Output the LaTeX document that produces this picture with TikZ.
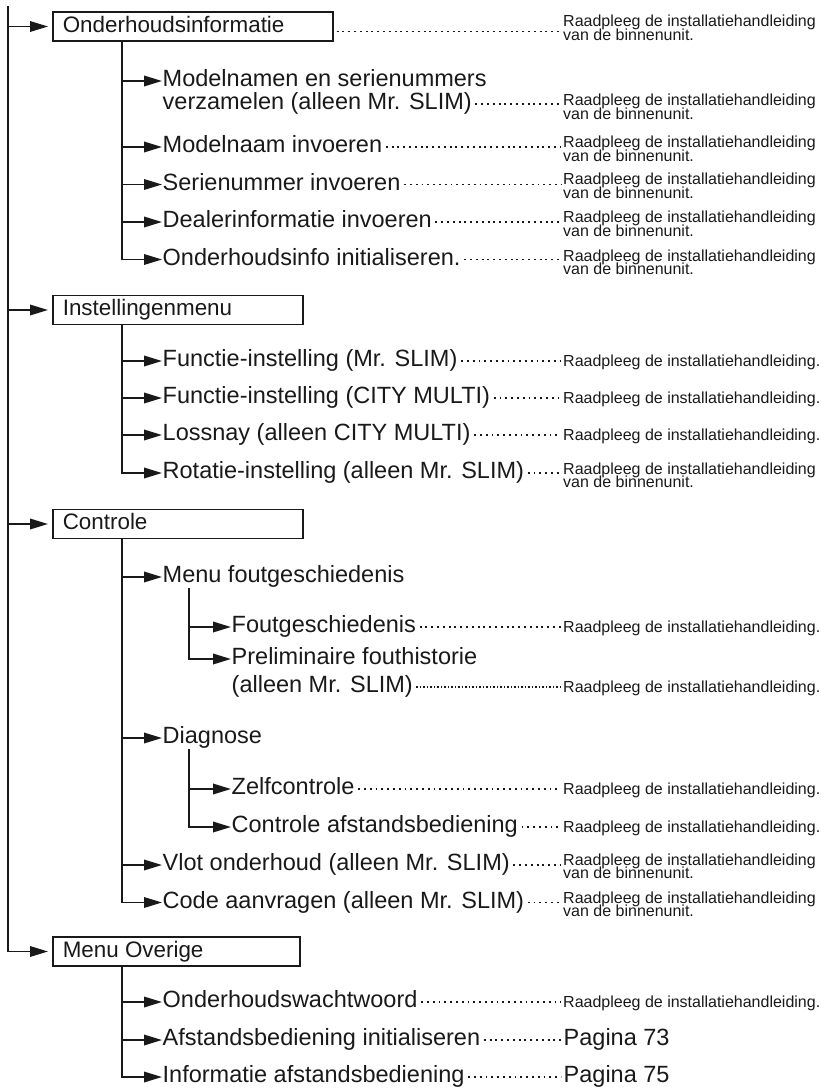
\documentclass[tikz,border=0pt]{standalone}
\usepackage{fontspec}
\setmainfont{Liberation Sans}
\usepackage{tikz}
\usetikzlibrary{arrows.meta}
\usetikzlibrary{calc}
\colorlet{ink}{black!90}
\tikzstyle{tree}=[line width=1.8pt,draw=ink]
\tikzstyle{arr}=[tree,-{Triangle[length=18pt,width=10.5pt]}]
\tikzstyle{arrbox}=[tree,-{Triangle[length=18pt,width=10.5pt]},shorten >=4pt]
\tikzstyle{leader}=[line width=1.9pt,draw=ink,dash pattern=on 1.9pt off 3.9pt,shorten <=3pt,shorten >=2pt]
\tikzstyle{fineleader}=[leader,line width=1.4pt,dash pattern=on 1.4pt off 2.1pt]
\tikzstyle{menubox}=[draw=ink,line width=1.6pt,anchor=west,inner xsep=10pt,inner ysep=0pt,minimum height=29pt,font=\fontsize{22.4}{26}\selectfont,text height=16.1pt,text depth=4.5pt]
\tikzstyle{item}=[anchor=west,inner xsep=0.5pt,inner ysep=0pt,font=\fontsize{23.5}{26}\selectfont,text height=17pt,text depth=5.5pt]
\tikzstyle{rtext}=[anchor=west,inner sep=0pt,font=\fontsize{16}{13}\selectfont,text height=11.5pt,text depth=0pt]
\newcommand\binnen[2]{%
  \node[rtext,anchor=base west] (#1) at (563,#2) {Raadpleeg de installatiehandleiding};
  \node[rtext,anchor=base west] (#1b) at ([yshift=-13.5pt]#1.base west) {van de binnenunit.};}
\newcommand\handl[2]{%
  \node[rtext] (#1) at (563,#2) {Raadpleeg de installatiehandleiding.};}

\begin{document}
\begin{tikzpicture}[x=1pt,y=-1pt,color=ink]
\useasboundingbox (0,0) rectangle (828,1091);
% menu's
\node[menubox] (onderhoud) at (52,26.5) {\makebox[260pt][l]{Onderhoudsinformatie}};
\node[menubox] (instel) at (52,310) {\makebox[230pt][l]{Instellingenmenu}};
\node[menubox] (controle) at (52,524) {\makebox[230pt][l]{Controle}};
\node[menubox] (overige) at (52,951.5) {\makebox[227pt][l]{Menu Overige}};

% onderhoudsinformatie
\node[item] (mn1) at (162,81) {Modelnamen en serienummers};
\node[item] (mn2) at (162,104) {verzamelen (alleen Mr. SLIM)};
\node[item] (mi) at (162,147) {Modelnaam invoeren};
\node[item] (si) at (162,184.5) {Serienummer invoeren};
\node[item] (di) at (162,222) {Dealerinformatie invoeren};
\node[item] (oi) at (162,259.5) {Onderhoudsinfo initialiseren.};
\binnen{rond}{27}
\binnen{rmn}{106}
\binnen{rmi}{148}
\binnen{rsi}{185}
\binnen{rdi}{223}
\binnen{roi}{261}

% instellingenmenu
\node[item] (fm) at (162,361) {Functie-instelling (Mr. SLIM)};
\node[item] (fc) at (162,398) {Functie-instelling (CITY MULTI)};
\node[item] (lo) at (162,435) {Lossnay (alleen CITY MULTI)};
\node[item] (rt) at (162,473) {Rotatie-instelling (alleen Mr. SLIM)};
\handl{rfm}{361}
\handl{rfc}{398}
\handl{rlo}{435}
\binnen{rrt}{474}

% controle
\node[item] (mf) at (162,577) {Menu foutgeschiedenis};
\node[item] (fg) at (231,627) {Foutgeschiedenis};
\node[item] (pf1) at (231,659) {Preliminaire fouthistorie};
\node[item] (pf2) at (231,687) {(alleen Mr. SLIM)};
\node[item] (dg) at (162,738) {Diagnose};
\node[item] (zc) at (231,789) {Zelfcontrole};
\node[item] (ca) at (231,827) {Controle afstandsbediening};
\node[item] (vo) at (162,865) {Vlot onderhoud (alleen Mr. SLIM)};
\node[item] (co) at (162,902.5) {Code aanvragen (alleen Mr. SLIM)};
\handl{rfg}{627}
\handl{rpf}{687}
\handl{rzc}{789}
\handl{rca}{827}
\binnen{rvo}{865}
\binnen{rco}{903}

% menu overige
\node[item] (ow) at (162,1002) {Onderhoudswachtwoord};
\node[item] (ai) at (162,1040) {Afstandsbediening initialiseren};
\node[item] (ia) at (162,1077) {Informatie afstandsbediening};
\handl{row}{1002}
\node[item] (p73) at (563,1040) {Pagina 73};
\node[item] (p75) at (563,1077) {Pagina 75};

% boom
\coordinate (top) at (8,6);
\coordinate (k1) at (122,0);
\coordinate (k2) at (189,0);
\draw[arrbox] (top) |- (overige.west);
\foreach \b in {onderhoud,instel,controle}
  \draw[arrbox] (top |- \b.west) -- (\b.west);
\draw[arr] (k1 |- onderhoud.south) |- (oi.west);
\foreach \c in {mn1,mi,si,di}
  \draw[arr] (k1 |- \c.west) -- (\c.west);
\draw[arr] (k1 |- instel.south) |- (rt.west);
\foreach \c in {fm,fc,lo}
  \draw[arr] (k1 |- \c.west) -- (\c.west);
\draw[arr] (k1 |- controle.south) |- (co.west);
\foreach \c in {mf,dg,vo}
  \draw[arr] (k1 |- \c.west) -- (\c.west);
\draw[arr] (k2 |- mf.south) |- (pf1.west);
\draw[arr] (k2 |- fg.west) -- (fg.west);
\draw[arr] (k2 |- dg.south) |- (ca.west);
\draw[arr] (k2 |- zc.west) -- (zc.west);
\draw[arr] (k1 |- overige.south) |- (ia.west);
\foreach \c in {ow,ai}
  \draw[arr] (k1 |- \c.west) -- (\c.west);

% stippellijnen
\coordinate (ol) at ([yshift=-5pt]onderhoud.east);
\draw[leader] (ol) -- (ol -| rond.west);
\draw[leader] (mn2.east) -- (mn2.east -| rmn.west);
\draw[leader] (mi.east) -- (mi.east -| rmi.west);
\draw[leader] (si.east) -- (si.east -| rsi.west);
\draw[leader] (di.east) -- (di.east -| rdi.west);
\draw[leader] (oi.east) -- (oi.east -| roi.west);
\draw[leader] (fm.east) -- (rfm.west);
\draw[leader] (fc.east) -- (rfc.west);
\draw[leader] (lo.east) -- (rlo.west);
\draw[leader] (rt.east) -- (rt.east -| rrt.west);
\draw[leader] (fg.east) -- (rfg.west);
\draw[fineleader] (pf2.east) -- (rpf.west);
\draw[leader] (zc.east) -- (rzc.west);
\draw[leader] (ca.east) -- (rca.west);
\draw[leader] (vo.east) -- (vo.east -| rvo.west);
\draw[leader] (co.east) -- (co.east -| rco.west);
\draw[leader] (ow.east) -- (row.west);
\draw[leader] (ai.east) -- (p73.west);
\draw[leader] (ia.east) -- (p75.west);
\end{tikzpicture}
\end{document}
